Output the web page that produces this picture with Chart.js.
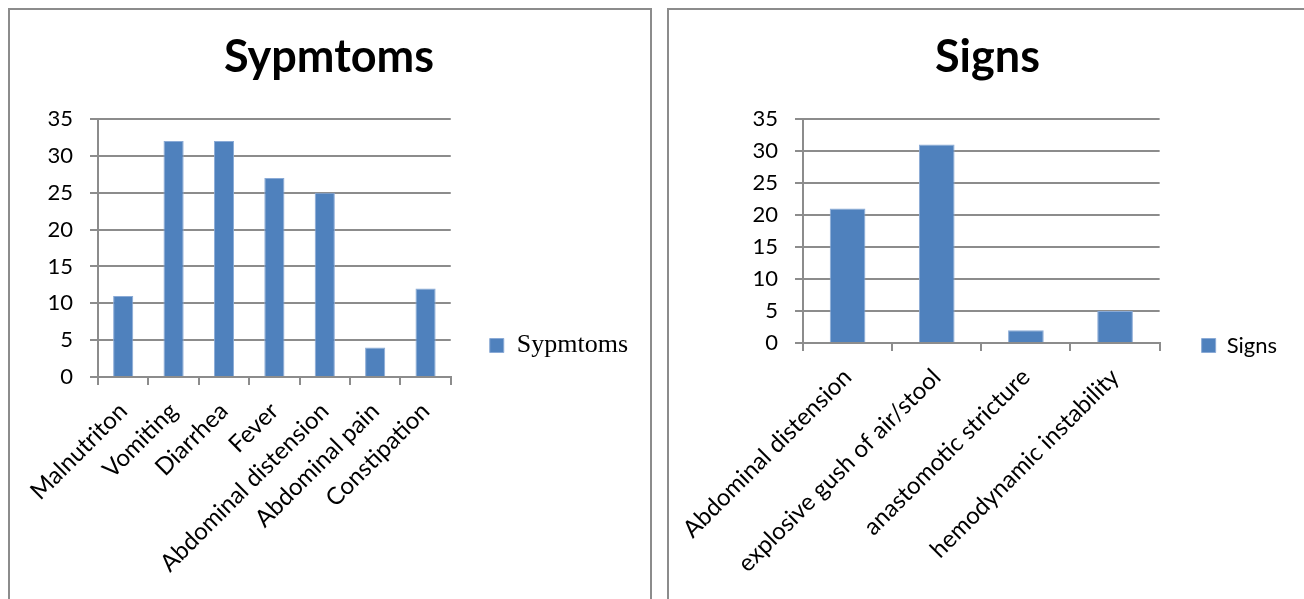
<!DOCTYPE html>
<html>
<head>
<meta charset="utf-8">
<script src="https://cdn.jsdelivr.net/npm/chart.js@4.4.1/dist/chart.umd.min.js"></script>
<style>
  html, body { margin: 0; padding: 0; background: #fff; overflow: hidden; width: 1304px; height: 599px; }
  .frame { position: absolute; border: 2px solid #8c8c8c; box-sizing: border-box; }
  canvas { position: absolute; }
</style>
</head>
<body>
<div class="frame" style="left:8px;top:8px;width:644px;height:700px"></div>
<div class="frame" style="left:667px;top:8px;width:700px;height:700px"></div>
<canvas id="symptomsChart"></canvas>
<canvas id="signsChart"></canvas>
<script>
// Presenting symptoms (count of patients)
const symptomCategories = ['Malnutriton', 'Vomiting', 'Diarrhea', 'Fever', 'Abdominal distension', 'Abdominal pain', 'Constipation'];
const symptomCounts = [11, 32, 32, 27, 25, 4, 12];

// Clinical signs (count of patients)
const signCategories = ['Abdominal distension', 'explosive gush of air/stool', 'anastomotic stricture', 'hemodynamic instability'];
const signCounts = [21, 31, 2, 5];

// Value axis ticks shared by both panels
const yTickValues = [0, 5, 10, 15, 20, 25, 30, 35];

const BAR_BLUE = '#4f81bd';
const BAR_EDGE = '#8aaad6';
const GRID_GREY = '#8c8c8c';
const Y_FONT = { family: 'Lato', size: 22 };
const X_FONT = { family: 'Lato', size: 24 };
const TITLE_FONT = { family: 'Lato', size: 45, weight: 'bold', lineHeight: 1.2 };
const LEGEND_BOX = 14;

// Page geometry of each panel: where the plot area, title and legend sit.
const symptomsLayout = { left: 10, top: 0, titleX: 329, titleY: 57.5, plotLeft: 98, plotRight: 450, plotTop: 119, plotBottom: 377, legendX: 489, legendY: 345.5 };
const signsLayout = { left: 669, top: 0, titleX: 987.5, titleY: 57.5, plotLeft: 803, plotRight: 1159, plotTop: 119, plotBottom: 343, legendX: 1201, legendY: 345.5 };

function drawPanel(canvasId, categories, values, seriesName, geo, legendFont) {
  const canvas = document.getElementById(canvasId);
  const ctx = canvas.getContext('2d');

  // Size the legend column so the plot area ends where it should
  ctx.font = `${legendFont.size}px ${legendFont.family}`;
  const textW = ctx.measureText(seriesName).width;
  const labelPad = geo.legendX - geo.plotRight;
  const legendW = Math.ceil(labelPad + LEGEND_BOX + legendFont.size / 2 + textW + 10);
  const W = Math.round(geo.plotRight - geo.left + legendW);
  const padL = 2 * (geo.titleX - geo.left) - W;
  const H = Math.round(2 * (geo.legendY - geo.top));
  const titleLH = TITLE_FONT.size * TITLE_FONT.lineHeight;
  const titleTop = geo.titleY - geo.top - titleLH / 2;
  const titleBottom = geo.plotTop - geo.top - titleTop - titleLH;
  const yW = geo.plotLeft - geo.left - padL;
  const xH = H - (geo.plotBottom - geo.top);

  canvas.width = W;
  canvas.height = H;
  canvas.style.left = geo.left + 'px';
  canvas.style.top = geo.top + 'px';
  canvas.style.width = W + 'px';
  canvas.style.height = H + 'px';

  return new Chart(canvas, {
    type: 'bar',
    data: {
      labels: categories,
      datasets: [{
        label: seriesName,
        data: values,
        backgroundColor: BAR_BLUE,
        borderColor: BAR_EDGE,
        borderWidth: 1,
        barPercentage: 0.4,
        categoryPercentage: 1
      }]
    },
    options: {
      responsive: false,
      animation: false,
      devicePixelRatio: 1,
      layout: { padding: { left: padL, right: 0, top: 0, bottom: 0 } },
      plugins: {
        title: {
          display: true,
          text: seriesName,
          color: '#000',
          font: TITLE_FONT,
          padding: { top: titleTop, bottom: titleBottom }
        },
        legend: {
          position: 'right',
          align: 'center',
          maxWidth: legendW,
          labels: {
            boxWidth: LEGEND_BOX,
            boxHeight: LEGEND_BOX,
            padding: labelPad,
            color: '#000',
            font: legendFont
          }
        },
        tooltip: { enabled: false }
      },
      scales: {
        x: {
          grid: { display: true, drawOnChartArea: false, drawTicks: true, tickLength: 8, color: GRID_GREY, lineWidth: 2, offset: true },
          border: { display: true, color: GRID_GREY, width: 2 },
          ticks: { color: '#000', font: X_FONT, minRotation: 45, maxRotation: 45, autoSkip: false, padding: 12 },
          // fixed band for the slanted labels; they may spill past the plot edges
          afterFit: (scale) => { scale.height = xH; scale.paddingLeft = 0; scale.paddingRight = 0; }
        },
        y: {
          min: yTickValues[0],
          max: yTickValues[yTickValues.length - 1],
          ticks: { stepSize: yTickValues[1] - yTickValues[0], color: '#000', font: Y_FONT, padding: 17 },
          grid: { color: GRID_GREY, lineWidth: 2, tickLength: 8 },
          border: { color: GRID_GREY, width: 2 },
          afterFit: (scale) => { scale.width = yW; }
        }
      }
    }
  });
}

drawPanel('symptomsChart', symptomCategories, symptomCounts, 'Sypmtoms', symptomsLayout,
  { family: "'Liberation Serif', serif", size: 26 });
drawPanel('signsChart', signCategories, signCounts, 'Signs', signsLayout,
  { family: 'Lato', size: 22 });
</script>
</body>
</html>
